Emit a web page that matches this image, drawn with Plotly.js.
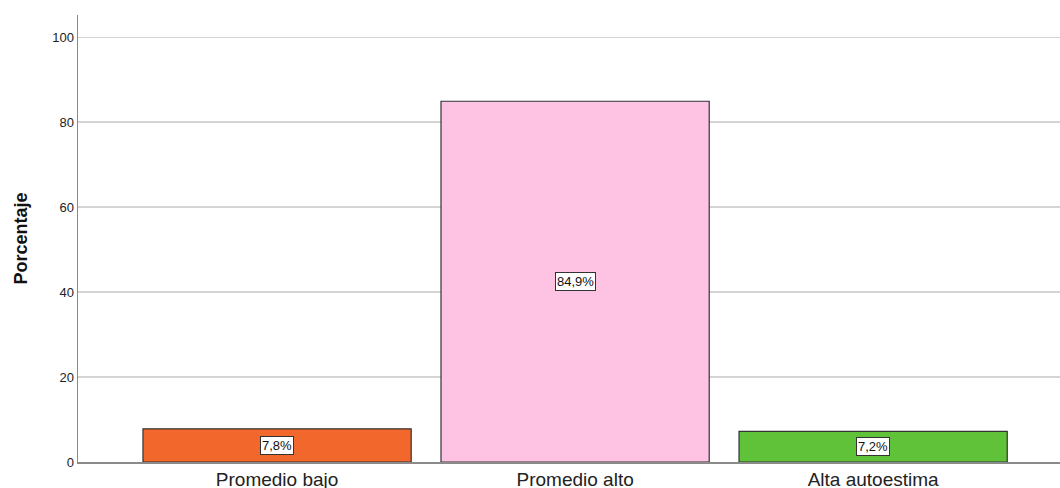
<!DOCTYPE html>
<html>
<head>
<meta charset="utf-8">
<script src="https://cdn.plot.ly/plotly-3.0.1.min.js"></script>
<style>html,body{margin:0;padding:0;background:#fff;}#chart{width:1060px;height:488px;}</style>
</head>
<body>
<div id="chart"></div>
<script>
const categories = ["Promedio bajo", "Promedio alto", "Alta autoestima"];
const percentages = [7.8, 84.9, 7.2];
const barColors = ["#F2672B", "#FEC3E2", "#5FC238"];
const yTicks = [0, 20, 40, 60, 80, 100];

const fmt = v => v.toFixed(1).replace(".", ",") + "%";

const trace = {
  type: "bar",
  x: categories,
  y: percentages,
  width: 0.9,
  marker: {color: barColors, line: {color: "#333333", width: 1.2}},
  hoverinfo: "none"
};

const annotations = categories.map((c, i) => ({
  x: c, y: percentages[i] / 2, xref: "x", yref: "y",
  text: fmt(percentages[i]), showarrow: false,
  bgcolor: "#ffffff", bordercolor: "#333333", borderwidth: 1, borderpad: 1,
  font: {family: "Liberation Sans, Arial, sans-serif", size: 13, color: "#111"}
}));

const layout = {
  width: 1060, height: 488,
  margin: {l: 78, r: 0, t: 15, b: 26},
  paper_bgcolor: "#fff", plot_bgcolor: "#fff",
  showlegend: false,
  bargap: 0,
  font: {family: "Liberation Sans, Arial, sans-serif", color: "#222"},
  xaxis: {
    type: "category", range: [-0.668, 2.627],
    showline: true, linecolor: "#8a8a8a", linewidth: 1.5,
    showgrid: false, ticks: "", tickfont: {size: 19, color: "#222"},
    zeroline: false
  },
  yaxis: {
    range: [0, 105.2], tickvals: yTicks, ticktext: yTicks.map(String),
    showline: true, linecolor: "#8a8a8a", linewidth: 1.5,
    showgrid: true, gridcolor: "#d4d4d4", gridwidth: 1.2,
    zeroline: false, ticks: "", ticklen: 4,
    tickfont: {size: 13, color: "#222"},
    title: {text: "<b>Porcentaje</b>", font: {size: 18, color: "#111"}, standoff: 20}
  },
  annotations: annotations
};

Plotly.newPlot("chart", [trace], layout, {displayModeBar: false, staticPlot: true});
</script>
</body>
</html>
